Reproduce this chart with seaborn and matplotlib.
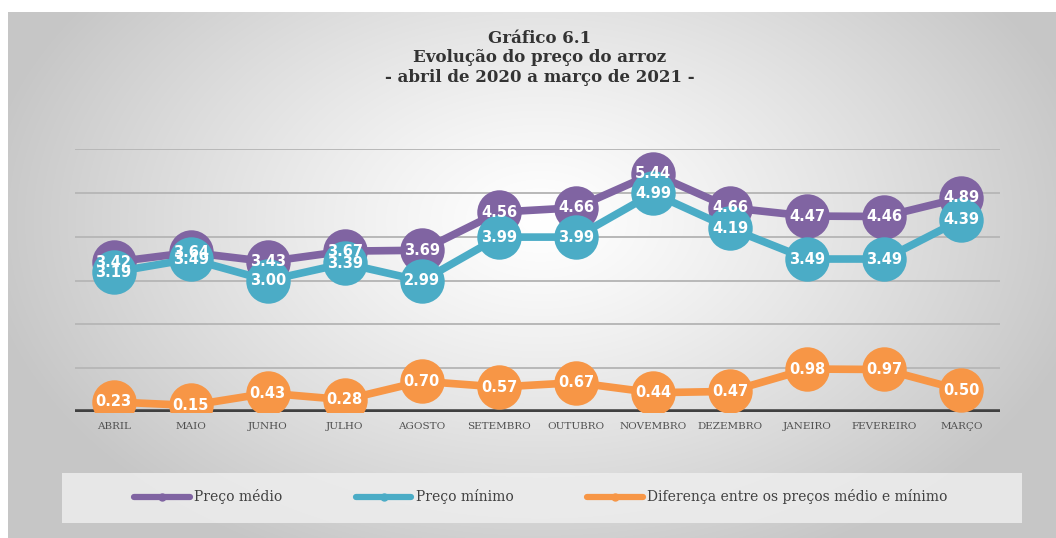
import numpy as np
import pandas as pd
import matplotlib
matplotlib.use("Agg")
import matplotlib.pyplot as plt
from matplotlib.lines import Line2D
from matplotlib.patches import Rectangle
import seaborn as sns

# Dados do gráfico
meses = ['ABRIL', 'MAIO', 'JUNHO', 'JULHO', 'AGOSTO', 'SETEMBRO', 'OUTUBRO',
         'NOVEMBRO', 'DEZEMBRO', 'JANEIRO', 'FEVEREIRO', 'MARÇO']
preco_medio = [3.42, 3.64, 3.43, 3.67, 3.69, 4.56, 4.66, 5.44, 4.66, 4.47, 4.46, 4.89]
preco_minimo = [3.19, 3.49, 3.00, 3.39, 2.99, 3.99, 3.99, 4.99, 4.19, 3.49, 3.49, 4.39]
diferenca = [0.23, 0.15, 0.43, 0.28, 0.70, 0.57, 0.67, 0.44, 0.47, 0.98, 0.97, 0.50]

series = ['Preço médio', 'Preço mínimo', 'Diferença entre os preços médio e mínimo']
cores = ['#8064A2', '#4BACC6', '#F79646']

df = pd.DataFrame({'mes': meses * 3,
                   'x': list(range(len(meses))) * 3,
                   'valor': preco_medio + preco_minimo + diferenca,
                   'serie': [series[0]] * 12 + [series[1]] * 12 + [series[2]] * 12})

sns.set_style('white')
plt.rcParams['font.family'] = ['DejaVu Sans']

fig = plt.figure(figsize=(10.56, 5.38), dpi=100)

# Fundo com gradiente radial
bg = fig.add_axes([0, 0, 1, 1], zorder=-10)
W, H = 1056, 538
yy, xx = np.mgrid[0:H, 0:W]
d = np.sqrt(((xx - 540) / 600.0) ** 2 + ((yy - 220) / 400.0) ** 2)
g = np.clip(1.0 - 0.24 * d ** 1.2, 0.78, 1.0)
img = np.dstack([g, g, g])
img[:12, :, :] = 1.0
img[:, :8, :] = 1.0
bg.imshow(img, extent=[0, W, H, 0], aspect='auto', interpolation='bilinear')
bg.set_xlim(0, W)
bg.set_ylim(H, 0)
bg.axis('off')
bg.add_patch(Rectangle((62, 473), 960, 50, facecolor='#eeeeee', edgecolor='none', alpha=0.85))

ax = fig.add_axes([75 / W, 1 - 412 / H, 925 / W, 263 / H])
ax.patch.set_alpha(0)

sns.lineplot(data=df, x='x', y='valor', hue='serie', hue_order=series, palette=cores,
             marker='o', markersize=32, linewidth=5.5, markeredgewidth=0,
             legend=False, ax=ax, zorder=3)

ax.set_xlim(-0.5, 11.5)
ax.set_ylim(0, 6)
ax.set_yticks(range(0, 7))
ax.set_yticklabels([])
ax.tick_params(axis='y', length=0)
for v in range(1, 7):
    ax.axhline(v, color='#b8b8b8', linewidth=1.4, zorder=1)
ax.axhline(0, color='#404040', linewidth=4, zorder=2)
for s in ax.spines.values():
    s.set_visible(False)
ax.set_xticks(range(len(meses)))
ax.set_xticklabels(meses, family='DejaVu Serif', fontsize=7.5, color='#505050')
ax.tick_params(axis='x', length=0, pad=7)
ax.set_xlabel('')
ax.set_ylabel('')

for vals in (preco_medio, preco_minimo, diferenca):
    for i, v in enumerate(vals):
        ax.text(i, v, f'{v:.2f}', ha='center', va='center', color='white',
                fontsize=10.5, fontweight='bold', zorder=10)

fig.text(0.511, 1 - 58 / H, 'Gráfico 6.1\nEvolução do preço do arroz\n- abril de 2020 a março de 2021 -',
         ha='center', va='center', family='DejaVu Serif', fontweight='heavy',
         fontsize=12, color='#333333', linespacing=1.2)

handles = [Line2D([0], [0], color=c, linewidth=4.5, marker='o', markersize=5) for c in cores]
fig.legend(handles, series, loc='center', bbox_to_anchor=(0.512, 1 - 497 / H), ncol=3,
           frameon=False, prop={'family': 'DejaVu Serif', 'size': 10},
           handlelength=4, columnspacing=5.3, handletextpad=0.3, labelcolor='#404040')

fig.savefig('out.png', dpi=100)
